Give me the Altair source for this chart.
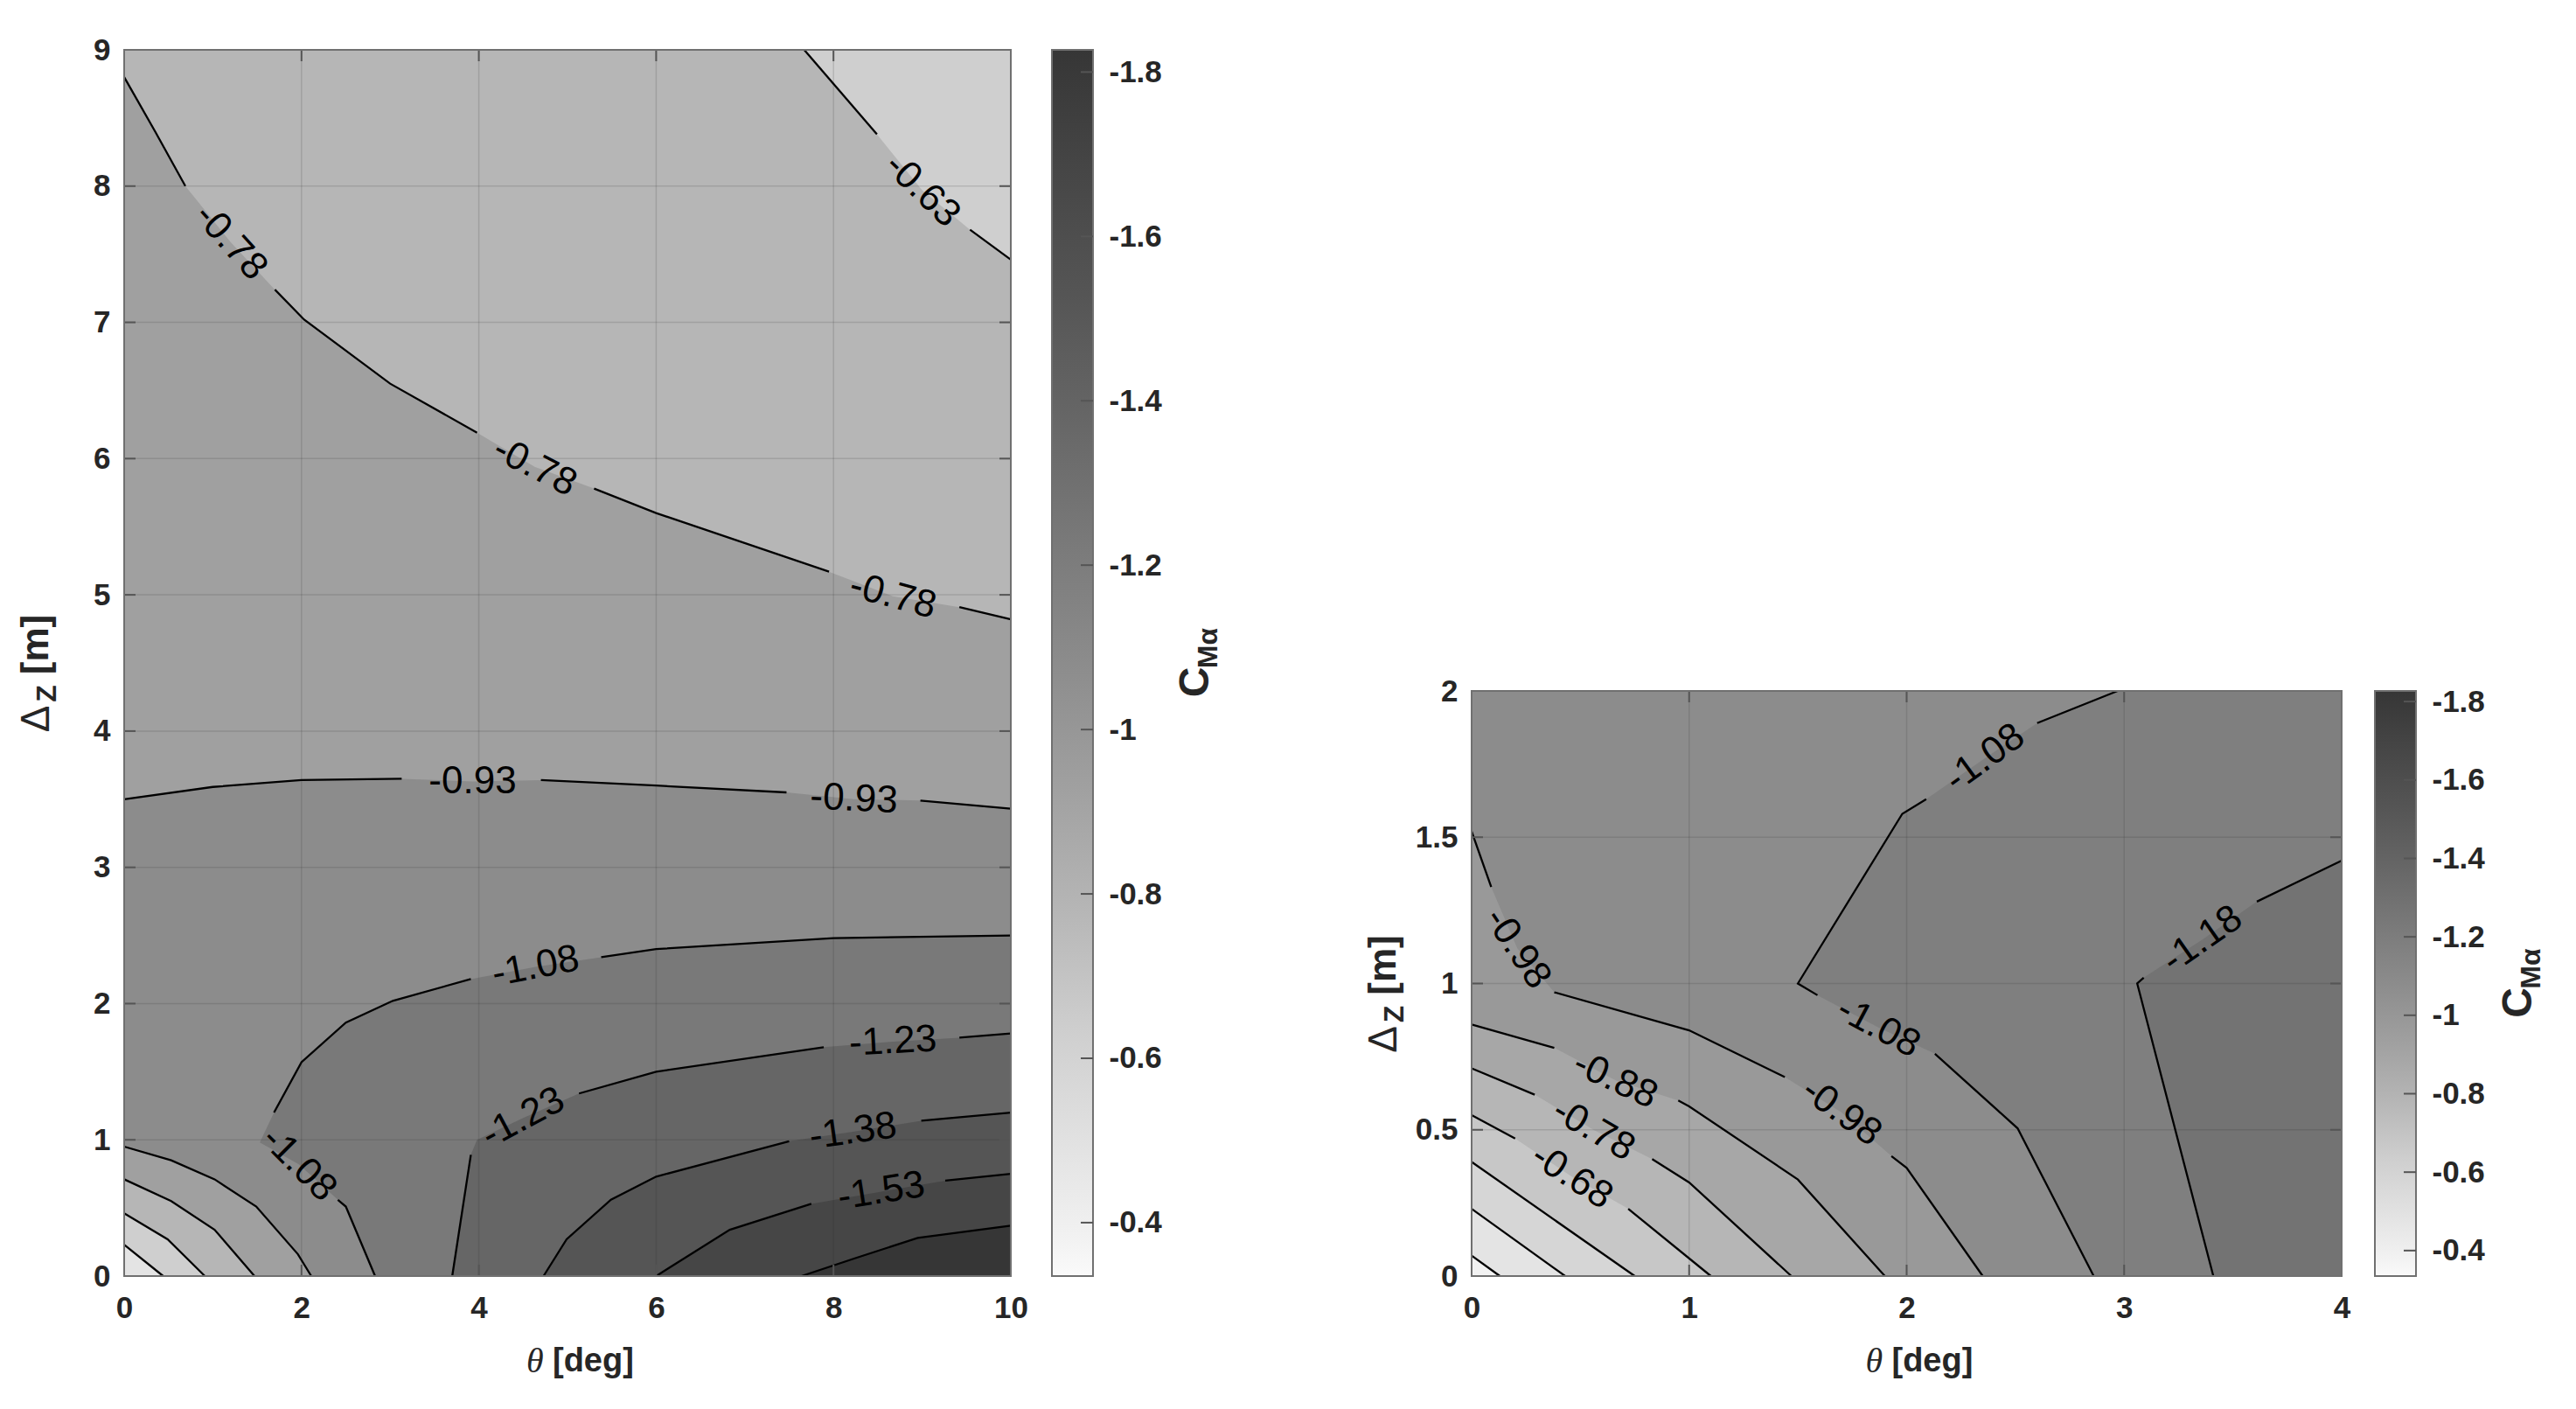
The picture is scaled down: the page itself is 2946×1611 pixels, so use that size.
import altair as alt
import pandas as pd

FONT = "Liberation Sans"
SERIF = "Liberation Serif"
INK = "#262626"
FRAME = "#707070"
TICK_C = "#555555"
TICK_FS = 35
LAB_FS = 44

CMAP_V = [-1.827, -1.68, -1.53, -1.38, -1.23, -1.08, -0.93, -0.78, -0.63, -0.48, -0.38, -0.335]
CMAP_C = ["#363636", "#464646", "#555555", "#666666", "#797979", "#8c8c8c",
          "#a0a0a0", "#b6b6b6", "#cfcfcf", "#e4e4e4", "#f2f2f2", "#fafafa"]
CBAR_LO, CBAR_HI = -1.827, -0.335
CBAR_TICKS = [-1.8, -1.6, -1.4, -1.2, -1.0, -0.8, -0.6, -0.4]

# ---------------- left panel: theta 0..10 deg, dz 0..9 m ----------------
L_XDOM, L_YDOM = [0, 10], [0, 9]
L_XTICKS = [0, 2, 4, 6, 8, 10]
L_YTICKS = [0, 1, 2, 3, 4, 5, 6, 7, 8, 9]

# K codes: p = drawn point, t = label position (line gap), g = hidden point in a gap
L048_X = [0.00, 0.44]
L048_Y = [0.23, 0.00]
L048_K = "pp"
L063A_X = [0.00, 0.49, 0.91]
L063A_Y = [0.46, 0.27, 0.00]
L063A_K = "ppp"
L063B_X = [7.67, 8.49, 9.00, 9.54, 10.00]
L063B_Y = [9.00, 8.38, 7.97, 7.68, 7.46]
L063B_K = "pptpp"
L063B_A = [44]
L078A_X = [0.00, 0.53, 1.02, 1.47]
L078A_Y = [0.71, 0.55, 0.34, 0.00]
L078A_K = "pppp"
L078B_X = [0.00, 0.35, 0.69, 1.20, 1.70, 2.03, 3.00, 3.98, 4.63, 5.30, 6.00, 7.95, 8.67, 9.42, 10.00]
L078B_Y = [8.80, 8.40, 8.00, 7.59, 7.24, 7.02, 6.55, 6.19, 5.94, 5.78, 5.60, 5.17, 4.99, 4.91, 4.82]
L078B_K = "ppptpppptppptpp"
L078B_A = [48, 27, 15]
L093A_X = [0.00, 0.53, 1.02, 1.49, 1.96, 2.11]
L093A_Y = [0.95, 0.85, 0.71, 0.51, 0.16, 0.00]
L093A_K = "pppppp"
L093B_X = [0.00, 1.00, 2.00, 3.13, 3.93, 4.70, 6.00, 7.47, 8.23, 8.98, 10.00]
L093B_Y = [3.50, 3.59, 3.64, 3.65, 3.63, 3.64, 3.60, 3.55, 3.50, 3.49, 3.43]
L093B_K = "pppptppptpp"
L093B_A = [0, 3]
L108_X = [10.00, 8.00, 6.00, 5.38, 4.64, 3.91, 3.03, 2.50, 2.00, 1.69, 1.53, 1.97, 2.41, 2.50, 2.83]
L108_Y = [2.50, 2.48, 2.40, 2.34, 2.27, 2.18, 2.02, 1.86, 1.57, 1.20, 0.98, 0.82, 0.56, 0.51, 0.00]
L108_K = "pppptpppppgtppp"
L108_A = [349, 45]
L123_X = [3.70, 3.91, 3.98, 4.50, 5.13, 6.00, 7.89, 8.67, 9.42, 10.00]
L123_Y = [0.00, 0.89, 1.00, 1.16, 1.34, 1.50, 1.68, 1.72, 1.75, 1.78]
L123_K = "ppgtppptpp"
L123_A = [332, 357]
L138_X = [4.73, 4.99, 5.49, 6.00, 7.50, 8.22, 8.99, 10.00]
L138_Y = [0.00, 0.27, 0.56, 0.73, 0.99, 1.06, 1.14, 1.20]
L138_K = "ppppptpp"
L138_A = [352]
L153_X = [6.00, 6.83, 7.75, 8.54, 9.26, 10.00]
L153_Y = [0.00, 0.34, 0.53, 0.62, 0.70, 0.75]
L153_K = "ppptpp"
L153_A = [351]
L168_X = [7.64, 8.24, 8.95, 10.00]
L168_Y = [0.00, 0.13, 0.28, 0.37]
L168_K = "pppp"

L_CONTOURS = {
    "L048": (L048_X, L048_Y, L048_K, "-0.48", []),
    "L063A": (L063A_X, L063A_Y, L063A_K, "-0.63", []),
    "L063B": (L063B_X, L063B_Y, L063B_K, "-0.63", L063B_A),
    "L078A": (L078A_X, L078A_Y, L078A_K, "-0.78", []),
    "L078B": (L078B_X, L078B_Y, L078B_K, "-0.78", L078B_A),
    "L093A": (L093A_X, L093A_Y, L093A_K, "-0.93", []),
    "L093B": (L093B_X, L093B_Y, L093B_K, "-0.93", L093B_A),
    "L108": (L108_X, L108_Y, L108_K, "-1.08", L108_A),
    "L123": (L123_X, L123_Y, L123_K, "-1.23", L123_A),
    "L138": (L138_X, L138_Y, L138_K, "-1.38", L138_A),
    "L153": (L153_X, L153_Y, L153_K, "-1.53", L153_A),
    "L168": (L168_X, L168_Y, L168_K, "-1.68", []),
}
# filled regions, painted light to dark: (band colour value, boundary)
L_REGIONS = [
    (-0.48, ["BL", "BR", "TR", "TL"]),
    (-0.63, ["L048", "BR", "TR", "TL"]),
    (-0.78, ["L063A", "BR", "-L063B", "TL"]),
    (-0.93, ["L078A", "BR", "-L078B"]),
    (-1.08, ["L093A", "BR", "-L093B"]),
    (-1.23, ["L108", "BR"]),
    (-1.38, ["L123", "BR"]),
    (-1.53, ["L138", "BR"]),
    (-1.68, ["L153", "BR"]),
    (-1.827, ["L168", "BR"]),
]

# ---------------- right panel: theta 0..4 deg, dz 0..2 m ----------------
R_XDOM, R_YDOM = [0, 4], [0, 2]
R_XTICKS = [0, 1, 2, 3, 4]
R_YTICKS = [0, 0.5, 1, 1.5, 2]

R038_X = [0.00, 0.13]
R038_Y = [0.07, 0.00]
R048_X = [0.00, 0.43]
R048_Y = [0.23, 0.00]
R058_X = [0.00, 0.75]
R058_Y = [0.39, 0.00]
R068_X = [0.00, 0.20, 0.46, 0.72, 1.10]
R068_Y = [0.55, 0.47, 0.34, 0.23, 0.00]
R068_K = "pptpp"
R078_X = [0.00, 0.29, 0.56, 0.83, 1.00, 1.47]
R078_Y = [0.71, 0.62, 0.50, 0.40, 0.32, 0.00]
R078_K = "pptppp"
R088_X = [0.00, 0.38, 0.66, 0.95, 1.00, 1.50, 1.90]
R088_Y = [0.86, 0.78, 0.67, 0.60, 0.58, 0.33, 0.00]
R088_K = "pptpppp"
R098_X = [0.00, 0.09, 0.21, 0.38, 1.00, 1.44, 1.70, 1.93, 2.00, 2.35]
R098_Y = [1.52, 1.33, 1.12, 0.97, 0.84, 0.68, 0.56, 0.41, 0.37, 0.00]
R098_K = "pptppptppp"
R108_X = [2.97, 2.60, 2.36, 2.09, 1.98, 1.50, 1.59, 1.87, 2.13, 2.51, 2.86]
R108_Y = [2.00, 1.89, 1.77, 1.63, 1.58, 1.00, 0.96, 0.85, 0.76, 0.505, 0.00]
R108_K = "pptpppptppp"
R118_X = [3.41, 3.06, 3.09, 3.36, 3.61, 4.00]
R118_Y = [0.00, 1.00, 1.02, 1.15, 1.28, 1.42]
R118_K = "ppptpp"

R_CONTOURS = {
    "R038": (R038_X, R038_Y, "pp", "-0.38", []),
    "R048": (R048_X, R048_Y, "pp", "-0.48", []),
    "R058": (R058_X, R058_Y, "pp", "-0.58", []),
    "R068": (R068_X, R068_Y, R068_K, "-0.68", [33]),
    "R078": (R078_X, R078_Y, R078_K, "-0.78", [30]),
    "R088": (R088_X, R088_Y, R088_K, "-0.88", [25]),
    "R098": (R098_X, R098_Y, R098_K, "-0.98", [56, 36]),
    "R108": (R108_X, R108_Y, R108_K, "-1.08", [324, 28]),
    "R118": (R118_X, R118_Y, R118_K, "-1.18", [325]),
}
R_REGIONS = [
    (-0.38, ["BL", "BR", "TR", "TL"]),
    (-0.48, ["R038", "BR", "TR", "TL"]),
    (-0.58, ["R048", "BR", "TR", "TL"]),
    (-0.68, ["R058", "BR", "TR", "TL"]),
    (-0.78, ["R068", "BR", "TR", "TL"]),
    (-0.88, ["R078", "BR", "TR", "TL"]),
    (-0.98, ["R088", "BR", "TR", "TL"]),
    (-1.08, ["R098", "BR", "TR", "TL"]),
    (-1.18, ["R108", "BR", "TR"]),
    (-1.28, ["R118", "BR"]),
]

# ---------------- layout (pixels) ----------------
FULL_H = 1402
L_W = 1014
R_W = 995
R_TOP = 733
CB_W = 47
GAP_L_CB = 47
GAP_MID = 433
GAP_R_CB = 38
TL = 13

CSCALE = alt.Scale(domain=CMAP_V, range=CMAP_C)
one = pd.DataFrame({"k": [0]})


def region_df(spec, contours, xdom, ydom, lev):
    corner = {"BL": (xdom[0], ydom[0]), "BR": (xdom[1], ydom[0]),
              "TR": (xdom[1], ydom[1]), "TL": (xdom[0], ydom[1])}
    pts = []
    for part in spec:
        if part in corner:
            pts.append(corner[part])
        else:
            rev = part.startswith("-")
            nm = part.lstrip("-")
            seq = list(zip(contours[nm][0], contours[nm][1]))
            pts.extend(seq[::-1] if rev else seq)
    pts.append(pts[0])
    return pd.DataFrame({"x": [p[0] for p in pts], "y": [p[1] for p in pts],
                         "i": list(range(len(pts))), "lev": lev})


def contour_tables(contours):
    lrows, trows = [], []
    for name, (xs, ys, ks, text, angs) in contours.items():
        pid, n, ai = 0, 0, 0
        for x, y, k in zip(xs, ys, ks):
            if k == "p":
                lrows.append({"x": x, "y": y, "pid": f"{name}-{pid}", "i": n})
                n += 1
            else:
                pid += 1
                if k == "t":
                    trows.append({"x": x, "y": y, "t": text, "a": angs[ai] % 360})
                    ai += 1
    return pd.DataFrame(lrows), pd.DataFrame(trows)


def text_layer(txt, px, py, size, weight="normal", angle=0, align="center", font=FONT, style="normal"):
    return alt.Chart(one).mark_text(text=txt, font=font, fontSize=size, fontWeight=weight,
                                    fontStyle=style, angle=angle, align=align,
                                    baseline="middle", color=INK).encode(
        x=alt.value(px), y=alt.value(py))


def panel(contours, regions, xdom, ydom, xticks, yticks, W, H, top, anchor=False):
    xsc = alt.Scale(domain=xdom, nice=False, zero=False)
    ysc = alt.Scale(domain=ydom, nice=False, zero=False, range=[H, top])
    common = dict(domain=False, ticks=False, grid=False, labelFont=FONT, labelFontSize=TICK_FS,
                  labelFontWeight="bold", labelColor=INK, labelFlush=False, labelOverlap=False,
                  labelExpr="'' + datum.value", title=None)
    xax = alt.Axis(values=xticks, labelPadding=19, **common)
    yax = alt.Axis(values=yticks, labelPadding=16, **common)

    def XE(f):
        return alt.X(f + ":Q", scale=xsc, axis=xax)

    def YE(f):
        return alt.Y(f + ":Q", scale=ysc, axis=yax)

    layers = []
    for lev, spec in regions:
        df = region_df(spec, contours, xdom, ydom, lev)
        layers.append(alt.Chart(df).mark_line(strokeWidth=0, strokeOpacity=0).encode(
            x=XE("x"), y=YE("y"),
            fill=alt.Fill("lev:Q", scale=CSCALE, legend=None),
            order=alt.Order("i:Q")))
    gx = pd.DataFrame({"x": xticks, "y0": ydom[0], "y1": ydom[1]})
    layers.append(alt.Chart(gx).mark_rule(color=INK, opacity=0.15, strokeWidth=1.5).encode(
        x=XE("x"), y=YE("y0"), y2=alt.Y2("y1")))
    gy = pd.DataFrame({"y": yticks, "x0": xdom[0], "x1": xdom[1]})
    layers.append(alt.Chart(gy).mark_rule(color=INK, opacity=0.15, strokeWidth=1.5).encode(
        y=YE("y"), x=XE("x0"), x2=alt.X2("x1")))
    lines, labels = contour_tables(contours)
    layers.append(alt.Chart(lines).mark_line(color="black", strokeWidth=2.3).encode(
        x=XE("x"), y=YE("y"), detail="pid:N", order=alt.Order("i:Q")))
    layers.append(alt.Chart(labels).mark_text(font=FONT, fontSize=LAB_FS, color="black",
                                              align="center", baseline="middle").encode(
        x=XE("x"), y=YE("y"), text="t:N", angle=alt.Angle("a:Q", scale=None)))
    tx = pd.DataFrame({"x": xticks})
    ty = pd.DataFrame({"y": yticks})
    layers.append(alt.Chart(tx).mark_rule(color=TICK_C, strokeWidth=2).encode(
        x=XE("x"), y=alt.value(H), y2=alt.value(H - TL)))
    layers.append(alt.Chart(tx).mark_rule(color=TICK_C, strokeWidth=2).encode(
        x=XE("x"), y=alt.value(top), y2=alt.value(top + TL)))
    layers.append(alt.Chart(ty).mark_rule(color=TICK_C, strokeWidth=2).encode(
        y=YE("y"), x=alt.value(0), x2=alt.value(TL)))
    layers.append(alt.Chart(ty).mark_rule(color=TICK_C, strokeWidth=2).encode(
        y=YE("y"), x=alt.value(W), x2=alt.value(W - TL)))
    fr = pd.DataFrame({"x0": [xdom[0]], "x1": [xdom[1]], "y0": [ydom[0]], "y1": [ydom[1]]})
    layers.append(alt.Chart(fr).mark_rect(fill="transparent", stroke=FRAME, strokeWidth=2).encode(
        x=XE("x0"), x2=alt.X2("x1"), y=YE("y0"), y2=alt.Y2("y1")))
    # axis titles: Delta_Z [m] (rotated) and theta [deg]
    cy = (top + H) / 2 + 12
    yx = -100
    layers.append(text_layer("\u0394", yx, cy + 52, 46, angle=270))
    layers.append(text_layer("Z", yx + 12, cy + 23, 32, weight="bold", angle=270))
    layers.append(text_layer("[m]", yx, cy - 33, 44, weight="bold", angle=270))
    cx = W / 2 + 14
    ty_ = H + 98
    layers.append(text_layer("\u03b8", cx - 61, ty_, 40, align="left", font=SERIF, style="italic"))
    layers.append(text_layer("[deg]", cx - 31, ty_, 38, weight="bold", align="left"))
    if anchor:
        layers.append(alt.Chart(one).mark_rule(color="white", strokeWidth=1).encode(
            x=alt.value(-133), x2=alt.value(-132), y=alt.value(-48), y2=alt.value(-47)))
    return alt.layer(*layers).properties(width=W, height=H)


def colorbar(H, top):
    csc = alt.Scale(domain=[CBAR_LO, CBAR_HI], nice=False, zero=False, range=[top, H])
    cax = alt.Axis(orient="right", values=CBAR_TICKS, labelExpr="'' + datum.value", domain=False,
                   ticks=False, grid=False, labelFont=FONT, labelFontSize=TICK_FS,
                   labelFontWeight="bold", labelColor=INK, labelPadding=18, labelFlush=False,
                   labelOverlap=False, title=None)
    stops = [alt.GradientStop(offset=round((v - CBAR_LO) / (CBAR_HI - CBAR_LO), 4), color=c)
             for v, c in zip(CMAP_V, CMAP_C)]
    grad = alt.LinearGradient(gradient="linear", stops=stops, x1=0, x2=0, y1=0, y2=1)
    bar = alt.Chart(pd.DataFrame({"lo": [CBAR_LO], "hi": [CBAR_HI]})).mark_rect(
        fill=grad, stroke=FRAME, strokeWidth=2).encode(
        x=alt.value(0), x2=alt.value(CB_W),
        y=alt.Y("lo:Q", scale=csc, axis=cax), y2=alt.Y2("hi:Q"))
    ticks = alt.Chart(pd.DataFrame({"v": CBAR_TICKS})).mark_rule(color=TICK_C, strokeWidth=2).encode(
        y=alt.Y("v:Q", scale=csc, axis=cax), x=alt.value(CB_W - 14), x2=alt.value(CB_W))
    cy = (top + H) / 2
    xc = 165
    t1 = text_layer("C", xc, cy + 22, 48, weight="bold", angle=270)
    t2 = text_layer("M\u03b1", xc + 14, cy - 17, 32, weight="bold", angle=270)
    return alt.layer(bar, ticks, t1, t2).properties(width=CB_W, height=H)


def spacer(w, H):
    return alt.Chart(one).mark_point(opacity=0).encode(
        x=alt.value(0), y=alt.value(0)).properties(width=w, height=H)


left = panel(L_CONTOURS, L_REGIONS, L_XDOM, L_YDOM, L_XTICKS, L_YTICKS, L_W, FULL_H, 0, anchor=True)
right = panel(R_CONTOURS, R_REGIONS, R_XDOM, R_YDOM, R_XTICKS, R_YTICKS, R_W, FULL_H, R_TOP)

chart = alt.hconcat(
    left, spacer(GAP_L_CB, FULL_H), colorbar(FULL_H, 0), spacer(GAP_MID, FULL_H),
    right, spacer(GAP_R_CB, FULL_H), colorbar(FULL_H, R_TOP),
    spacing=0, bounds="flush",
).properties(
    padding={"left": 0, "top": 0, "right": 6, "bottom": 6}
).configure(font=FONT).configure_view(stroke="transparent")

chart.save("out.html", embed_options={"renderer": "svg", "actions": False})
